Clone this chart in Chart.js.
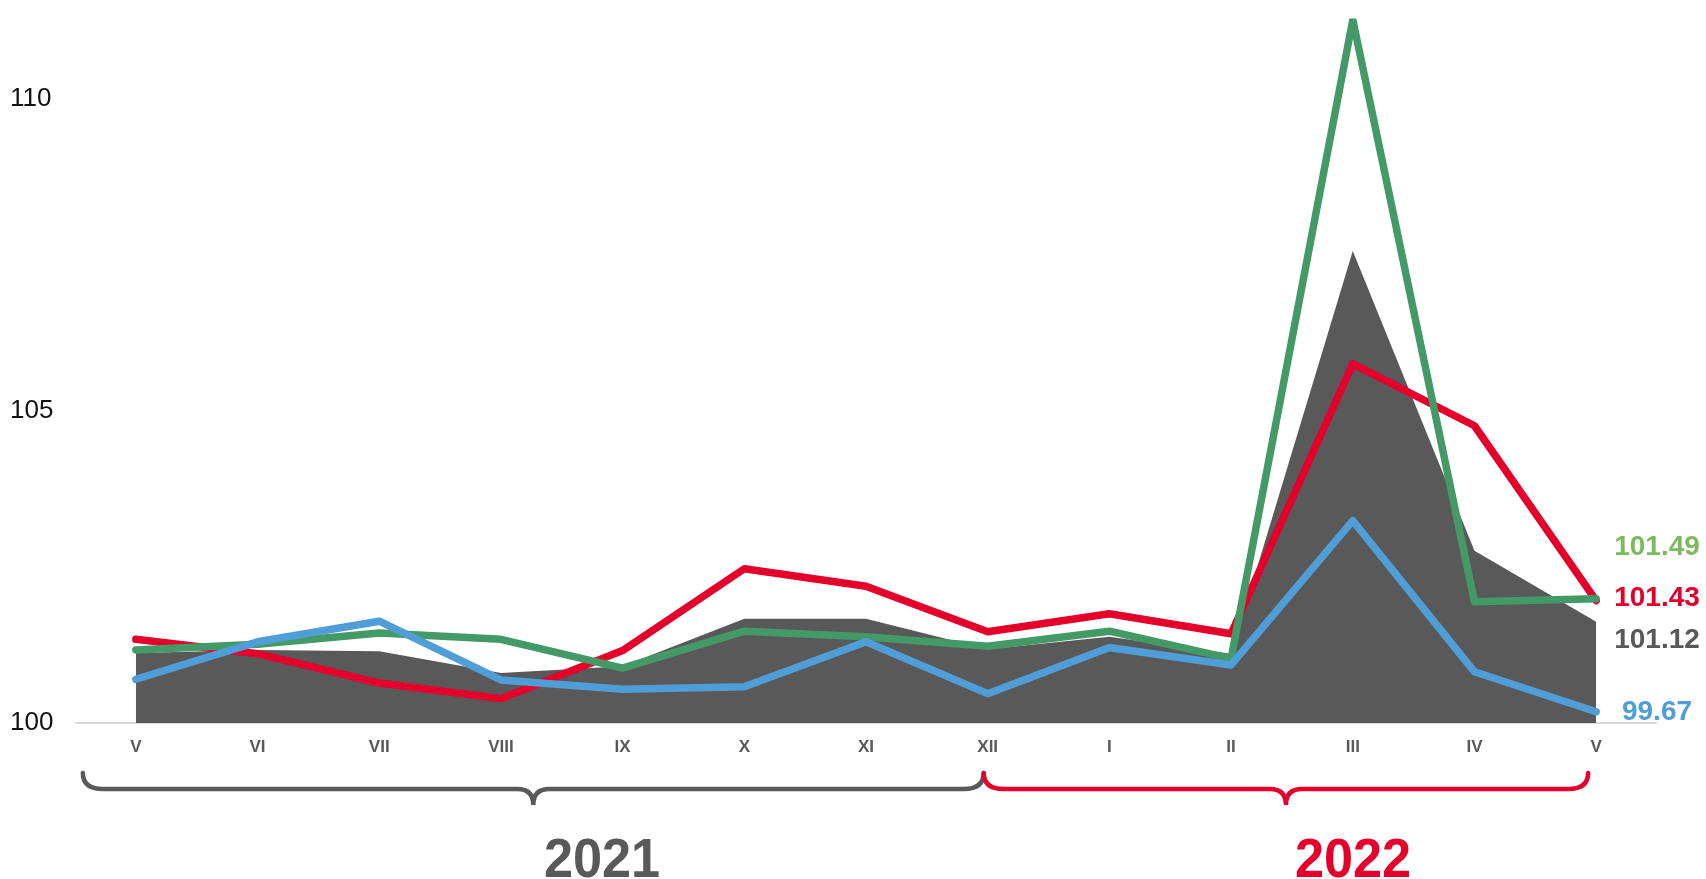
<!DOCTYPE html>
<html lang="en">
<head>
  <meta charset="UTF-8" />
  <title>Index chart</title>
  <script src="https://cdn.jsdelivr.net/npm/chart.js"></script>
  <style>
    body { margin: 0; padding: 0; background: #ffffff; }
    #wrap { width: 1706px; height: 879px; }
  </style>
</head>
<body>
  <div id="wrap"><canvas id="chart" width="1706" height="879"></canvas></div>

  <script>
    // months May 2021 .. May 2022
    const months = ['V', 'VI', 'VII', 'VIII', 'IX', 'X', 'XI', 'XII', 'I', 'II', 'III', 'IV', 'V'];

    const grayArea = [101.12, 101.17, 101.15, 100.80, 100.91, 101.67, 101.67, 101.18, 101.38, 101.11, 107.56, 102.76, 101.62];
    const redLine = [101.34, 101.11, 100.64, 100.39, 101.16, 102.47, 102.19, 101.46, 101.75, 101.43, 105.75, 104.76, 101.96];
    const greenLine = [101.17, 101.26, 101.44, 101.34, 100.88, 101.47, 101.38, 101.23, 101.47, 101.03, 111.26, 101.94, 101.99];
    const blueLine = [100.70, 101.30, 101.63, 100.69, 100.54, 100.58, 101.30, 100.47, 101.21, 100.93, 103.24, 100.82, 100.18];

    const yTicks = [100, 105, 110];
    const endLabels = ['101.49', '101.43', '101.12', '99.67'];
    const years = ['2021', '2022'];

    const RED = '#E4002B';
    const GREEN = '#449A67';
    const BLUE = '#4F9ED8';
    const GRAY = '#595959';

    // baseline under the plot
    const baseline = {
      id: 'baseline',
      beforeDatasetsDraw(chart) {
        const { ctx, chartArea } = chart;
        const y = chart.scales.y.getPixelForValue(100);
        ctx.save();
        ctx.strokeStyle = '#D9D9D9';
        ctx.lineWidth = 2;
        ctx.beginPath();
        ctx.moveTo(chartArea.left, y);
        ctx.lineTo(chartArea.right, y);
        ctx.stroke();
        ctx.restore();
      }
    };

    function brace(ctx, x0, x1, top, color) {
      const mid = (x0 + x1) / 2;
      const r = 16;
      const h = top + 16;
      ctx.strokeStyle = color;
      ctx.lineWidth = 4.5;
      ctx.lineCap = 'round';
      ctx.beginPath();
      ctx.moveTo(x0, top);
      ctx.quadraticCurveTo(x0, h, x0 + 20, h);
      ctx.lineTo(mid - r, h);
      ctx.quadraticCurveTo(mid, h, mid, h + r);
      ctx.quadraticCurveTo(mid, h, mid + r, h);
      ctx.lineTo(x1 - 20, h);
      ctx.quadraticCurveTo(x1, h, x1, top);
      ctx.stroke();
    }

    function yearText(ctx, text, cx, color) {
      ctx.save();
      ctx.translate(cx, 877);
      ctx.scale(0.95, 1);
      ctx.fillStyle = color;
      ctx.fillText(text, 0, 0);
      ctx.restore();
    }

    // end-of-series values, braces and years
    const extras = {
      id: 'extras',
      afterDraw(chart) {
        const { ctx, chartArea } = chart;
        const xs = chart.scales.x, ys = chart.scales.y;
        const last = months.length - 1;
        const ends = [
          { text: endLabels[0], v: greenLine[last], dy: -51, color: '#7DBA5E' },
          { text: endLabels[1], v: redLine[last], dy: -2, color: RED },
          { text: endLabels[2], v: grayArea[last], dy: 18, color: GRAY },
          { text: endLabels[3], v: blueLine[last], dy: 1, color: BLUE }
        ];
        ctx.save();
        ctx.font = 'bold 28px "Liberation Sans", Arial, sans-serif';
        ctx.textAlign = 'center';
        ctx.textBaseline = 'middle';
        ends.forEach(e => {
          ctx.fillStyle = e.color;
          ctx.fillText(e.text, chartArea.right, ys.getPixelForValue(e.v) + e.dy);
        });

        const left = xs.getPixelForValue(0) - 53;
        const split = xs.getPixelForValue(7) - 4;
        const right = xs.getPixelForValue(last) - 8;
        brace(ctx, left, split, 773, GRAY);
        brace(ctx, split, right, 773, RED);

        ctx.font = 'bold 55px "Liberation Sans", Arial, sans-serif';
        ctx.textBaseline = 'alphabetic';
        yearText(ctx, years[0], 602, GRAY);
        yearText(ctx, years[1], 1353, RED);
        ctx.restore();
      }
    };

    const lineStyle = {
      borderWidth: 7.5,
      pointRadius: 0,
      tension: 0,
      fill: false,
      borderCapStyle: 'round',
      borderJoinStyle: 'round'
    };

    new Chart(document.getElementById('chart'), {
      type: 'line',
      data: {
        labels: months,
        datasets: [
          { ...lineStyle, data: blueLine, borderColor: BLUE, order: 1 },
          { ...lineStyle, data: greenLine, borderColor: GREEN, order: 2 },
          { ...lineStyle, data: redLine, borderColor: RED, order: 3 },
          {
            data: grayArea, order: 4, fill: 'start', backgroundColor: GRAY,
            borderWidth: 0, borderColor: GRAY, pointRadius: 0, tension: 0
          }
        ]
      },
      options: {
        responsive: false,
        animation: false,
        layout: { padding: { left: 10, top: 3, right: 49, bottom: 0 } },
        plugins: { legend: { display: false }, tooltip: { enabled: false } },
        scales: {
          x: {
            offset: true,
            grid: { display: false, drawTicks: false },
            border: { display: false },
            ticks: {
              padding: 14,
              color: GRAY,
              font: { family: '"Liberation Sans", Arial, sans-serif', size: 17, weight: 'bold' }
            },
            afterFit: s => { s.height = 156; }
          },
          y: {
            min: 100,
            max: 111.28,
            grid: { display: false, drawTicks: false },
            border: { display: false },
            afterBuildTicks: s => { s.ticks = yTicks.map(v => ({ value: v })); },
            ticks: {
              crossAlign: 'far',
              color: '#111111',
              font: { family: '"Liberation Sans", Arial, sans-serif', size: 26 }
            },
            afterFit: s => { s.width = 65; }
          }
        }
      },
      plugins: [baseline, extras]
    });
  </script>
</body>
</html>
